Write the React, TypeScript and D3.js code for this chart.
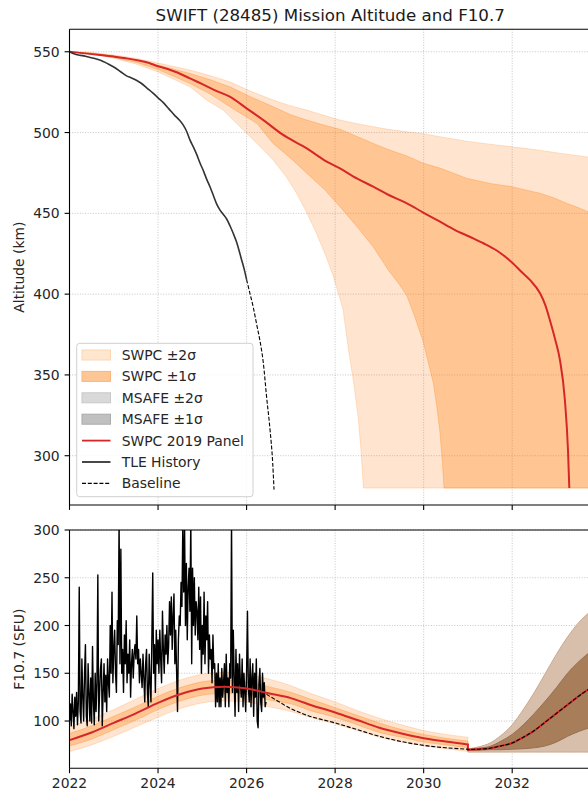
import * as d3 from "d3";

const W = 588;
const H = 792;
const LEFT = 69.5;
const RIGHT = 591; // axes run just past the picture edge
const TOP1 = 29.3;
const BOT1 = 505;
const TOP2 = 530;
const BOT2 = 768.3;
const FONT = "DejaVu Sans, sans-serif";
const FS = 13.9;

const YEAR_TICKS = [2022, 2024, 2026, 2028, 2030, 2032, 2034];
const ALT_TICKS = [300, 350, 400, 450, 500, 550];
const F107_TICKS = [100, 150, 200, 250, 300];

// ---- top panel: altitude (year, km) ----
const TLE_HISTORY: [number, number][] = [
  [2022.0, 550], [2022.1, 548.8], [2022.2, 548], [2022.3, 547.6], [2022.4, 546.9],
  [2022.55, 546], [2022.7, 544.8], [2022.85, 542.8], [2023.0, 540.6], [2023.15, 537.8],
  [2023.28, 535.2], [2023.4, 533.8], [2023.5, 532.5], [2023.62, 530.5], [2023.75, 527.5],
  [2023.88, 524.5], [2024.0, 521.5], [2024.12, 518.5], [2024.25, 514.5], [2024.38, 510.5],
  [2024.48, 507.8], [2024.57, 504.6], [2024.65, 500.5], [2024.72, 495.5], [2024.8, 491],
  [2024.88, 486], [2024.95, 481], [2025.03, 476], [2025.1, 471], [2025.18, 466],
  [2025.25, 461], [2025.32, 456], [2025.4, 452], [2025.47, 449.5], [2025.55, 446.5],
  [2025.63, 442], [2025.7, 437.5], [2025.77, 432.5], [2025.83, 427], [2025.89, 421],
  [2025.95, 415], [2026.0, 409],
];

const BASELINE_ALT: [number, number][] = [
  [2026.0, 409], [2026.08, 400], [2026.15, 392], [2026.23, 381], [2026.3, 371.5],
  [2026.38, 357], [2026.45, 337], [2026.53, 316], [2026.59, 295.5], [2026.62, 279],
];

const SWPC_ALT: [number, number][] = [
  [2022.0, 550], [2022.35, 549], [2022.69, 548], [2023.0, 547], [2023.29, 545.9],
  [2023.59, 544.4], [2023.8, 543], [2024.0, 541], [2024.2, 539.5], [2024.45, 537],
  [2024.72, 533.5], [2025.0, 530], [2025.3, 526], [2025.62, 522.2], [2026.0, 515],
  [2026.38, 507.7], [2026.8, 499], [2027.36, 490.2], [2027.75, 483], [2028.11, 477.8],
  [2028.5, 471.5], [2028.86, 466.5], [2029.2, 461.5], [2029.62, 456.2], [2029.99, 450.5],
  [2030.37, 444.8], [2030.7, 439.8], [2031.04, 435.5], [2031.35, 431.5], [2031.65, 427],
  [2031.85, 423], [2032.02, 419], [2032.2, 414], [2032.4, 408.8], [2032.63, 400.5],
  [2032.75, 393], [2032.85, 384], [2032.97, 372], [2033.08, 359], [2033.19, 334.5],
  [2033.26, 303.5], [2033.29, 280],
];

const ALT_FLOOR = 280;
const ALT_RIGHT_YEAR = 2033.8;

const SWPC_2S_UP: [number, number][] = [
  [2022, 550], [2022.5, 549.5], [2023, 548], [2023.5, 546], [2024, 543], [2024.72, 538.7],
  [2025.2, 535], [2025.62, 531.4], [2026.1, 525.5], [2026.6, 520.1], [2027.0, 516.5],
  [2027.36, 513.9], [2027.7, 511], [2028.11, 507.7], [2028.5, 505.5], [2028.86, 503.6],
  [2029.2, 502], [2029.62, 500.5], [2029.99, 499.3], [2030.37, 497.4], [2031.0, 494.5],
  [2031.5, 492.8], [2031.99, 491.2], [2032.5, 489.5], [2033.0, 487.5], [2033.4, 486],
  [2033.8, 484.5],
];
const SWPC_2S_LO: [number, number][] = [
  [2022, 550], [2022.5, 548.5], [2023, 546], [2023.5, 542.5], [2024, 537.5], [2024.72, 528.3],
  [2025.1, 520], [2025.47, 513.9], [2026.0, 499.5], [2026.3, 491.5], [2026.6, 483],
  [2026.9, 472.5], [2027.13, 462.4], [2027.35, 451], [2027.58, 437.6], [2027.8, 423],
  [2027.96, 411], [2028.1, 398], [2028.18, 390.5], [2028.3, 366], [2028.42, 345],
  [2028.52, 324], [2028.58, 305], [2028.64, 280],
];
const SWPC_1S_UP: [number, number][] = [
  [2022, 550], [2022.5, 549.2], [2023, 547.5], [2023.5, 545], [2024, 541.8], [2024.72, 536.6],
  [2025.2, 532.5], [2025.62, 528.3], [2026.1, 522], [2026.6, 516], [2027.0, 511],
  [2027.36, 507.7], [2027.7, 505], [2028.11, 502], [2028.5, 497.5], [2028.86, 493.3],
  [2029.2, 489.5], [2029.62, 485.5], [2029.99, 481], [2030.37, 478], [2030.97, 471.7],
  [2031.5, 468.5], [2031.99, 466.5], [2032.3, 464.5], [2032.63, 462.4], [2032.95, 459.5],
  [2033.23, 456.2], [2033.5, 453.5], [2033.8, 450],
];
const SWPC_1S_LO: [number, number][] = [
  [2022, 550], [2022.5, 548.8], [2023, 546.5], [2023.5, 543.5], [2024, 539], [2024.72, 530.4],
  [2025.2, 523.5], [2025.62, 516], [2026.23, 505.7], [2026.6, 493.3], [2027.0, 484],
  [2027.36, 474.8], [2027.75, 465], [2028.11, 454.1], [2028.5, 441.5], [2028.86, 429.3],
  [2029.2, 415], [2029.45, 406], [2029.62, 399], [2029.8, 386], [2029.99, 370.5],
  [2030.12, 356], [2030.22, 344.8], [2030.3, 330], [2030.37, 314], [2030.42, 297],
  [2030.46, 280],
];

// ---- bottom panel: F10.7 ----
const OBS_START = 2022.0;
const OBS_STEP = 0.02; // ~weekly samples of the daily record
const F107_OBS = [
  100, 118, 95, 128, 110, 92, 125, 105, 130, 96,
  120, 240, 110, 98, 165, 125, 100, 150, 180, 105,
  95, 160, 130, 100, 145, 98, 178, 120, 96, 150,
  110, 140, 253, 100, 130, 155, 165, 95, 130, 160,
  120, 148, 110, 165, 140, 125, 200, 150, 235, 140,
  175, 195, 150, 130, 205, 180, 310, 160, 280, 150,
  175, 130, 190, 160, 205, 140, 170, 150, 185, 125,
  160, 175, 145, 170, 180, 165, 210, 160, 175, 140,
  165, 150, 135, 170, 145, 120, 160, 175, 130, 115,
  170, 140, 120, 185, 255, 150, 180, 130, 195, 160,
  185, 150, 195, 165, 140, 215, 175, 150, 190, 170,
  200, 160, 180, 225, 190, 230, 175, 210, 233, 160,
  195, 150, 110, 185, 210, 200, 245, 220, 310, 235,
  300, 200, 265, 185, 240, 260, 215, 310, 160, 260,
  200, 250, 190, 225, 215, 185, 240, 175, 230, 150,
  200, 170, 235, 160, 210, 185, 225, 150, 190, 165,
  175, 140, 190, 155, 160, 115, 150, 120, 160, 115,
  145, 115, 155, 125, 140, 160, 115, 170, 130, 145,
  115, 160, 145, 310, 130, 195, 145, 105, 175, 130,
  160, 110, 170, 140, 125, 165, 115, 150, 130, 110,
  150, 215, 135, 120, 165, 115, 145, 160, 105, 150,
  125, 165, 100, 93, 140, 155, 120, 110, 150, 125,
  140, 115, 120,
];

const SWPC_YEARS = [
  2022.0, 2022.5, 2023.0, 2023.5, 2024.0, 2024.5, 2025.0, 2025.5, 2026.0, 2026.5,
  2027.0, 2027.5, 2028.0, 2028.5, 2029.0, 2029.5, 2030.0, 2030.5, 2031.0,
];
const SWPC_F107 = [80, 88, 98, 108, 119, 128, 134, 136, 134, 129, 124, 116, 109, 101, 93, 87, 82, 78.5, 75.5];
const SWPC_F_2S_UP = [94, 102, 112, 123, 134, 143, 149, 151, 149, 144, 137, 128, 120, 111, 103, 96, 90, 86, 83];
const SWPC_F_2S_LO = [68, 75, 84, 94, 104, 113, 119, 121, 120, 115, 110, 103, 97, 90, 83, 78, 74, 71, 68];
const SWPC_F_1S_UP = [87, 95, 105, 115, 126, 135, 141, 143, 141, 136, 130, 122, 114, 106, 98, 91, 86, 82, 79];
const SWPC_F_1S_LO = [74, 81, 91, 101, 112, 121, 127, 129, 128, 122, 118, 110, 104, 96, 88, 83, 78, 75, 72];

const MSAFE_YEARS = [
  2031.0, 2031.25, 2031.5, 2031.75, 2032.0, 2032.25, 2032.5, 2032.75, 2033.0, 2033.25,
  2033.5, 2033.75, 2034.0,
];
const MSAFE_MED = [70, 70.5, 71.5, 74, 77, 83, 90, 99, 108, 117, 126, 134, 141];
const MSAFE_2S_UP = [71, 73, 77, 85, 96, 112, 130, 150, 170, 188, 203, 214, 222];
const MSAFE_2S_LO = [67.5, 67.5, 67.5, 67.5, 67.5, 67.5, 67.5, 67.5, 67.5, 67.5, 67.5, 67.5, 67.5];
const MSAFE_1S_UP = [70.5, 71.5, 73.5, 79, 86, 96, 108, 121, 135, 150, 162, 172, 180];
const MSAFE_1S_LO = [69.5, 69.5, 70, 70, 70.5, 71, 72, 74, 78, 84, 89, 93, 96];

const BASELINE_F107: [number, number][] = [
  [2026.45, 128], [2026.7, 121], [2027.0, 113], [2027.25, 108], [2027.5, 104],
  [2027.75, 101], [2028.0, 98], [2028.5, 91], [2029.0, 84], [2029.5, 78.5],
  [2030.0, 74.5], [2030.5, 72], [2031.0, 70.5],
];

const LEGEND = [
  { label: "SWPC ±2σ", kind: "patch", fill: "#ffe6cf", stroke: "#fcd5b3" },
  { label: "SWPC ±1σ", kind: "patch", fill: "#fdc694", stroke: "#f9b57a" },
  { label: "MSAFE ±2σ", kind: "patch", fill: "#d9d9d9", stroke: "#c8c8c8" },
  { label: "MSAFE ±1σ", kind: "patch", fill: "#c0c0c0", stroke: "#aaaaaa" },
  { label: "SWPC 2019 Panel", kind: "line", stroke: "#d62728" },
  { label: "TLE History", kind: "line", stroke: "#333333" },
  { label: "Baseline", kind: "dash", stroke: "#000000" },
];

const ORANGE = "#ff7f0e";
const RED = "#d62728";
const GRID = "#b8b8b8";

export default function App() {
  const x = d3.scaleLinear().domain([2022, 2033.78]).range([LEFT, RIGHT]);
  const yAlt = d3.scaleLinear().domain([269.5, 563.9]).range([BOT1, TOP1]);
  const yF = d3.scaleLinear().domain([50.5, 300]).range([BOT2, TOP2]);

  const altLine = d3.line<[number, number]>().x((d) => x(d[0])).y((d) => yAlt(d[1]));
  const altSmooth = d3
    .line<[number, number]>()
    .x((d) => x(d[0]))
    .y((d) => yAlt(d[1]))
    .curve(d3.curveMonotoneX);
  const fLine = d3.line<[number, number]>().x((d) => x(d[0])).y((d) => yF(d[1]));
  const fSmooth = d3
    .line<[number, number]>()
    .x((d) => x(d[0]))
    .y((d) => yF(d[1]))
    .curve(d3.curveMonotoneX);

  // closed band: upper edge left→right, down to the floor, lower edge back
  const altBand = (up: [number, number][], lo: [number, number][]) => {
    const pts: [number, number][] = [
      ...up,
      [ALT_RIGHT_YEAR, ALT_FLOOR],
      ...lo.slice().reverse(),
    ];
    return altLine(pts) + "Z";
  };

  const fArea = (years: number[], lo: number[], hi: number[]) =>
    d3
      .area<number>()
      .x((d) => x(d))
      .y0((_, i) => yF(lo[i]))
      .y1((_, i) => yF(hi[i]))
      .curve(d3.curveMonotoneX)(years) as string;

  const obs: [number, number][] = F107_OBS.map((v, i) => [OBS_START + i * OBS_STEP, v]);
  const swpcF: [number, number][] = SWPC_YEARS.map((t, i) => [t, SWPC_F107[i]]);
  const msafe: [number, number][] = MSAFE_YEARS.map((t, i) => [t, MSAFE_MED[i]]);

  const xGrid = YEAR_TICKS.filter((t) => x(t) <= RIGHT);

  const grid = (top: number, bot: number, yScale: d3.ScaleLinear<number, number>, ticks: number[]) => (
    <g stroke={GRID} strokeWidth={0.8} strokeDasharray="1,1.6" fill="none">
      {xGrid.map((t) => (
        <line key={"x" + t} x1={x(t)} x2={x(t)} y1={top} y2={bot} />
      ))}
      {ticks.map((t) => (
        <line key={"y" + t} x1={LEFT} x2={RIGHT} y1={yScale(t)} y2={yScale(t)} />
      ))}
    </g>
  );

  const yAxis = (yScale: d3.ScaleLinear<number, number>, ticks: number[]) => (
    <g>
      {ticks.map((t) => (
        <g key={t}>
          <line x1={LEFT - 4.9} x2={LEFT} y1={yScale(t)} y2={yScale(t)} stroke="#000" strokeWidth={1.1} />
          <text
            x={LEFT - 9.8}
            y={yScale(t) + FS * 0.365}
            textAnchor="end"
            fontSize={FS}
            fill="#262626"
          >
            {t}
          </text>
        </g>
      ))}
    </g>
  );

  const xTicks = (bot: number, labels: boolean) => (
    <g>
      {xGrid.map((t) => (
        <g key={t}>
          <line x1={x(t)} x2={x(t)} y1={bot} y2={bot + 4.9} stroke="#000" strokeWidth={1.1} />
          {labels && (
            <text x={x(t)} y={bot + 19.8} textAnchor="middle" fontSize={FS} fill="#262626">
              {t}
            </text>
          )}
        </g>
      ))}
    </g>
  );

  const LEG_X = 76.7;
  const LEG_Y = 343.3;
  const LEG_ROW = 21.4;

  return (
    <svg
      width={W}
      height={H}
      style={{ position: "absolute", left: 0, top: 0, background: "#fff" }}
      fontFamily={FONT}
    >
      <defs>
        <clipPath id="clipTop">
          <rect x={LEFT} y={TOP1} width={RIGHT - LEFT} height={BOT1 - TOP1} />
        </clipPath>
        <clipPath id="clipBot">
          <rect x={LEFT} y={TOP2} width={RIGHT - LEFT} height={BOT2 - TOP2} />
        </clipPath>
      </defs>
      <rect width={W} height={H} fill="#fff" />

      {/* title */}
      <text x={(LEFT + RIGHT) / 2} y={21.3} textAnchor="middle" fontSize={16.7} fill="#1a1a1a">
        SWIFT (28485) Mission Altitude and F10.7
      </text>

      {/* ---------- top panel ---------- */}
      {grid(TOP1, BOT1, yAlt, ALT_TICKS)}
      <g clipPath="url(#clipTop)">
        <path
          d={altBand(SWPC_2S_UP, SWPC_2S_LO)}
          fill={ORANGE}
          fillOpacity={0.2}
          stroke={ORANGE}
          strokeOpacity={0.2}
          strokeWidth={1}
        />
        <path
          d={altBand(SWPC_1S_UP, SWPC_1S_LO)}
          fill={ORANGE}
          fillOpacity={0.3}
          stroke={ORANGE}
          strokeOpacity={0.3}
          strokeWidth={1}
        />
        <path d={altSmooth(SWPC_ALT) ?? ""} fill="none" stroke={RED} strokeWidth={2} />
        <path d={altSmooth(TLE_HISTORY) ?? ""} fill="none" stroke="#333" strokeWidth={1.6} />
        <path
          d={altSmooth(BASELINE_ALT) ?? ""}
          fill="none"
          stroke="#000"
          strokeWidth={1.1}
          strokeDasharray="4,1.8"
        />
      </g>
      <g fill="none" stroke="#000" strokeWidth={1.1}>
        <line x1={LEFT} x2={LEFT} y1={TOP1} y2={BOT1} />
        <line x1={LEFT} x2={RIGHT} y1={TOP1} y2={TOP1} />
        <line x1={LEFT} x2={RIGHT} y1={BOT1} y2={BOT1} />
        <line x1={RIGHT} x2={RIGHT} y1={TOP1} y2={BOT1} />
      </g>
      {yAxis(yAlt, ALT_TICKS)}
      {xTicks(BOT1, false)}
      <text
        transform={`translate(23.5,${(TOP1 + BOT1) / 2}) rotate(-90)`}
        textAnchor="middle"
        fontSize={FS}
        fill="#262626"
      >
        Altitude (km)
      </text>

      {/* legend */}
      <g>
        <rect
          x={LEG_X}
          y={LEG_Y}
          width={253 - LEG_X}
          height={496.7 - LEG_Y}
          rx={3}
          fill="#fff"
          fillOpacity={0.8}
          stroke="#d0d0d0"
          strokeWidth={1}
        />
        {LEGEND.map((e, i) => {
          const cy = 355 + i * LEG_ROW;
          return (
            <g key={e.label}>
              {e.kind === "patch" ? (
                <rect
                  x={82}
                  y={cy - 5}
                  width={28.5}
                  height={10}
                  fill={e.fill}
                  stroke={e.stroke}
                  strokeWidth={1}
                />
              ) : (
                <line
                  x1={82}
                  x2={110.5}
                  y1={cy}
                  y2={cy}
                  stroke={e.stroke}
                  strokeWidth={e.kind === "dash" ? 1.1 : 1.8}
                  strokeDasharray={e.kind === "dash" ? "4,1.8" : undefined}
                />
              )}
              <text x={121.7} y={cy + FS * 0.36} fontSize={FS} fill="#262626">
                {e.label}
              </text>
            </g>
          );
        })}
      </g>

      {/* ---------- bottom panel ---------- */}
      {grid(TOP2, BOT2, yF, F107_TICKS)}
      <g clipPath="url(#clipBot)">
        <path
          d={fArea(SWPC_YEARS, SWPC_F_2S_LO, SWPC_F_2S_UP)}
          fill={ORANGE}
          fillOpacity={0.2}
          stroke={ORANGE}
          strokeOpacity={0.2}
          strokeWidth={1}
        />
        <path
          d={fArea(SWPC_YEARS, SWPC_F_1S_LO, SWPC_F_1S_UP)}
          fill={ORANGE}
          fillOpacity={0.3}
          stroke={ORANGE}
          strokeOpacity={0.3}
          strokeWidth={1}
        />
        <path
          d={fArea(MSAFE_YEARS, MSAFE_2S_LO, MSAFE_2S_UP)}
          fill="#d8bfab"
          stroke="#c9a98f"
          strokeWidth={1}
        />
        <path
          d={fArea(MSAFE_YEARS, MSAFE_1S_LO, MSAFE_1S_UP)}
          fill="#a77d5a"
          stroke="#96704f"
          strokeWidth={1}
        />
        <path d={fLine(obs) ?? ""} fill="none" stroke="#000" strokeWidth={1.4} strokeLinejoin="round" />
        <path
          d={(fSmooth(swpcF) ?? "") + (fSmooth(msafe) ?? "").replace(/^M/, "L")}
          fill="none"
          stroke={RED}
          strokeWidth={2}
        />
        <path
          d={(fSmooth(BASELINE_F107) ?? "") + (fSmooth(msafe) ?? "").replace(/^M/, "L")}
          fill="none"
          stroke="#000"
          strokeWidth={1.1}
          strokeDasharray="4,1.8"
        />
      </g>
      <g fill="none" stroke="#000" strokeWidth={1.1}>
        <line x1={LEFT} x2={LEFT} y1={TOP2} y2={BOT2} />
        <line x1={LEFT} x2={RIGHT} y1={TOP2} y2={TOP2} />
        <line x1={LEFT} x2={RIGHT} y1={BOT2} y2={BOT2} />
        <line x1={RIGHT} x2={RIGHT} y1={TOP2} y2={BOT2} />
      </g>
      {yAxis(yF, F107_TICKS)}
      {xTicks(BOT2, true)}
      <text
        transform={`translate(23.5,${(TOP2 + BOT2) / 2}) rotate(-90)`}
        textAnchor="middle"
        fontSize={FS}
        fill="#262626"
      >
        F10.7 (SFU)
      </text>
    </svg>
  );
}
